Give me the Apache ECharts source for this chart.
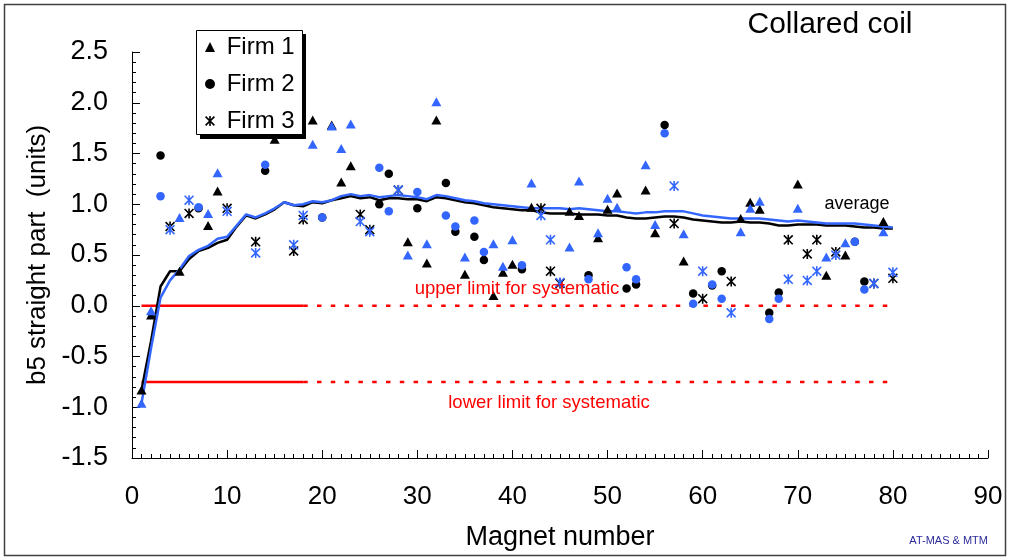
<!DOCTYPE html>
<html>
<head>
<meta charset="utf-8">
<script src="https://cdn.jsdelivr.net/npm/echarts@6/dist/echarts.min.js"></script>
<style>
  html, body { margin: 0; padding: 0; background: #ffffff; }
  #chart { width: 1010px; height: 560px; }
</style>
</head>
<body>
<div id="chart"></div>
<script>
// b5 multipole (straight part) per magnet, collared-coil stage.
// Each firm has two measurement sets: black and blue.

// Firm 1 (triangles)
const firm1Magnets = [1, 2, 5, 8, 9, 15, 19, 21, 22, 23, 29, 31, 32, 35, 38, 39, 40, 42, 46, 47, 49, 50, 51, 54, 55, 58, 64, 65, 66, 70, 73, 75, 79];
const firm1Black = [-0.83, -0.09, 0.34, 0.79, 1.13, 1.64, 1.83, 1.78, 1.22, 1.38, 0.63, 0.42, 1.83, 0.31, 0.10, 0.33, 0.41, 0.97, 0.93, 0.89, 0.67, 0.95, 1.11, 1.14, 0.72, 0.44, 0.86, 1.02, 0.95, 1.20, 0.30, 0.50, 0.83];
const firm1Blue = [-0.96, -0.05, 0.87, 0.91, 1.31, null, 1.59, 1.77, 1.55, 1.79, 0.50, 0.61, 2.01, 0.48, 0.61, 0.39, 0.65, 1.21, 0.58, 1.23, 0.72, 1.06, 0.97, 1.39, 0.80, 0.71, 0.73, 0.96, 1.03, 0.96, 0.48, 0.62, 0.73];

// Firm 2 (circles)
const firm2Magnets = [3, 7, 14, 20, 26, 27, 30, 33, 34, 36, 37, 41, 48, 52, 53, 56, 59, 61, 62, 67, 68, 76, 77];
const firm2Black = [1.48, 0.96, 1.33, 0.87, 1.00, 1.30, 0.96, 1.21, 0.73, 0.68, 0.45, 0.36, 0.30, 0.17, 0.21, 1.78, 0.12, 0.20, 0.34, -0.07, 0.13, 0.63, 0.24];
const firm2Blue = [1.08, 0.97, 1.39, 0.87, 1.36, 0.93, 1.12, 0.89, 0.78, 0.84, 0.53, 0.40, 0.26, 0.38, 0.26, 1.70, 0.02, 0.21, 0.07, -0.13, 0.07, 0.63, 0.16];

// Firm 3 (stars)
const firm3Magnets = [4, 6, 10, 13, 17, 18, 24, 25, 28, 43, 44, 45, 57, 60, 63, 69, 71, 72, 74, 78, 80];
const firm3Black = [0.78, 0.91, 0.96, 0.63, 0.54, 0.85, 0.90, 0.75, 1.14, 0.96, 0.34, 0.22, 0.81, 0.07, 0.24, 0.65, 0.51, 0.65, 0.53, 0.22, 0.27];
const firm3Blue = [0.75, 1.04, 0.93, 0.52, 0.60, 0.89, 0.83, 0.73, 1.14, 0.89, 0.65, 0.23, 1.18, 0.34, -0.07, 0.26, 0.25, 0.34, 0.50, 0.22, 0.33];

// Running averages over magnets 1..80
const averageBlack = [-0.83, -0.35, 0.19, 0.34, 0.34, 0.46, 0.54, 0.57, 0.62, 0.65,
  0.78, 0.89, 0.86, 0.90, 0.95, 1.02, 0.99, 0.98, 1.02, 1.01,
  1.04, 1.06, 1.08, 1.06, 1.07, 1.04, 1.06, 1.06, 1.05, 1.05,
  1.03, 1.07, 1.06, 1.04, 1.02, 1.01, 0.99, 0.97, 0.96, 0.95,
  0.94, 0.94, 0.92, 0.91, 0.91, 0.91, 0.90, 0.90, 0.90, 0.89,
  0.89, 0.87, 0.86, 0.86, 0.87, 0.88, 0.88, 0.87, 0.85, 0.84,
  0.83, 0.82, 0.82, 0.83, 0.82, 0.82, 0.81, 0.79, 0.79, 0.80,
  0.80, 0.80, 0.79, 0.79, 0.79, 0.78, 0.77, 0.77, 0.76, 0.76];
const averageBlue = [-0.96, -0.42, 0.08, 0.25, 0.36, 0.49, 0.55, 0.59, 0.66, 0.68,
  0.79, 0.90, 0.87, 0.91, 0.96, 1.02, 0.99, 1.00, 1.03, 1.02,
  1.04, 1.08, 1.10, 1.08, 1.09, 1.07, 1.08, 1.09, 1.08, 1.07,
  1.05, 1.09, 1.08, 1.06, 1.04, 1.03, 1.01, 1.00, 0.99, 0.98,
  0.97, 0.96, 0.96, 0.96, 0.96, 0.95, 0.96, 0.95, 0.94, 0.93,
  0.93, 0.92, 0.91, 0.92, 0.92, 0.93, 0.93, 0.93, 0.91, 0.89,
  0.88, 0.87, 0.86, 0.86, 0.86, 0.86, 0.85, 0.84, 0.83, 0.84,
  0.83, 0.82, 0.81, 0.81, 0.81, 0.81, 0.80, 0.79, 0.78, 0.77];

// Systematic limits
const upperLimit = 0.0;
const lowerLimit = -0.75;
const solidRange = [1, 18];
const dashedRange = [18, 80];

// Axis settings
const xTicks = { min: 0, max: 90, interval: 10 };
const yTicks = { min: -1.5, max: 2.5, interval: 0.5 };

const BLACK = '#000000';
const BLUE = '#3366ff';
const RED = '#ff0000';
const FONT = '"Liberation Sans", Arial, sans-serif';

// Asterisk marker: vertical bar plus two diagonals
const STAR = 'path://M4.2 0L5.8 0L5.8 10L4.2 10Z M0 1.13L1.13 0L10 8.87L8.87 10Z M8.87 0L10 1.13L1.13 10L0 8.87Z';

const pairs = (xs, ys) => xs.map((x, i) => [x, ys[i]]).filter(p => p[1] !== null);
const magnetIndex = averageBlack.map((_, i) => i + 1);

function scatter(name, symbol, size, color, xs, ys, z) {
  return {
    name, type: 'scatter', symbol, symbolSize: size,
    itemStyle: { color, opacity: 1 },
    data: pairs(xs, ys), z, silent: true, animation: false
  };
}
function limitLine(range, y, dashed) {
  return {
    type: 'line', showSymbol: false, symbol: 'none', z: 1, silent: true, animation: false,
    lineStyle: { color: RED, width: 2.5, type: dashed ? [4.5, 9.3] : 'solid' },
    data: range.map(x => [x, y])
  };
}

const chart = echarts.init(document.getElementById('chart'), null, { renderer: 'canvas' });

chart.setOption({
  animation: false,
  backgroundColor: '#ffffff',
  grid: { left: 132, right: 22, top: 52, bottom: 102, containLabel: false },
  xAxis: {
    type: 'value', min: xTicks.min, max: xTicks.max, interval: xTicks.interval,
    name: 'Magnet number', nameLocation: 'middle', nameGap: 66,
    nameTextStyle: { fontFamily: FONT, fontSize: 27, color: '#000' },
    axisLine: { show: true, onZero: false, lineStyle: { color: '#000', width: 1 } },
    axisTick: { show: true, inside: true, length: 8, lineStyle: { color: '#000' } },
    minorTick: { show: true, splitNumber: 10, length: 4, lineStyle: { color: '#000' } },
    splitLine: { show: false },
    axisLabel: { fontFamily: FONT, fontSize: 26, color: '#000', margin: 26 }
  },
  yAxis: {
    type: 'value', min: yTicks.min, max: yTicks.max, interval: yTicks.interval,
    name: 'b5 straight part  (units)', nameLocation: 'middle', nameGap: 81,
    nameTextStyle: { fontFamily: FONT, fontSize: 26, color: '#000' },
    axisLine: { show: true, onZero: false, lineStyle: { color: '#000', width: 1 } },
    axisTick: { show: true, inside: true, length: 8, lineStyle: { color: '#000' } },
    minorTick: { show: true, splitNumber: 5, length: 4, lineStyle: { color: '#000' } },
    splitLine: { show: false },
    axisLabel: { fontFamily: FONT, fontSize: 27, color: '#000', margin: 24, formatter: v => v.toFixed(1) }
  },
  legend: {
    data: ['Firm 1', 'Firm 2', 'Firm 3'],
    orient: 'vertical', left: 205, top: 34, padding: 0,
    itemWidth: 10, itemHeight: 10, itemGap: 11,
    selectedMode: false, z: 6,
    formatter: name => ' ' + name,
    textStyle: { fontFamily: FONT, fontSize: 24, color: '#000', lineHeight: 26 }
  },
  graphic: [
    // outer frame
    { type: 'rect', silent: true, z: -1, shape: { x: 4.5, y: 4.5, width: 1001, height: 551 },
      style: { fill: 'none', stroke: '#404040', lineWidth: 1.5 } },
    // legend box with drop shadow
    { type: 'rect', silent: true, z: 5, shape: { x: 200, y: 34, width: 106, height: 105 },
      style: { fill: '#000' } },
    { type: 'rect', silent: true, z: 5, shape: { x: 196.5, y: 30.5, width: 106, height: 104 },
      style: { fill: '#fff', stroke: '#000', lineWidth: 1 } },
    { type: 'text', silent: true, z: 5, style: { text: 'Collared coil', x: 830, y: 25, align: 'center', verticalAlign: 'middle', font: '30px ' + FONT, fill: '#000' } },
    { type: 'text', silent: true, z: 5, style: { text: 'average', x: 857, y: 204, align: 'center', verticalAlign: 'middle', font: '18px ' + FONT, fill: '#000' } },
    { type: 'text', silent: true, z: 5, style: { text: 'upper limit for systematic', x: 517, y: 289, align: 'center', verticalAlign: 'middle', font: '18.5px ' + FONT, fill: RED } },
    { type: 'text', silent: true, z: 5, style: { text: 'lower limit for systematic', x: 549, y: 403, align: 'center', verticalAlign: 'middle', font: '18.5px ' + FONT, fill: RED } },
    { type: 'text', silent: true, z: 5, style: { text: 'AT-MAS & MTM', x: 988, y: 541, align: 'right', verticalAlign: 'middle', font: '11px ' + FONT, fill: '#2b2b9c' } }
  ],
  series: [
    limitLine(solidRange, upperLimit, false),
    limitLine(dashedRange, upperLimit, true),
    limitLine(solidRange, lowerLimit, false),
    limitLine(dashedRange, lowerLimit, true),
    {
      name: 'average', type: 'line', symbol: 'none', z: 2, silent: true, animation: false,
      lineStyle: { color: BLACK, width: 2.5 },
      data: magnetIndex.map((m, i) => [m, averageBlack[i]])
    },
    {
      name: 'average (blue)', type: 'line', symbol: 'none', z: 2, silent: true, animation: false,
      lineStyle: { color: BLUE, width: 2.5 },
      data: magnetIndex.map((m, i) => [m, averageBlue[i]])
    },
    scatter('Firm 1', 'triangle', [10, 9], BLACK, firm1Magnets, firm1Black, 3),
    scatter('Firm 2', 'circle', 8.5, BLACK, firm2Magnets, firm2Black, 3),
    scatter('Firm 3', STAR, 10, BLACK, firm3Magnets, firm3Black, 3),
    scatter('Firm 1 (blue)', 'triangle', [10, 9], BLUE, firm1Magnets, firm1Blue, 4),
    scatter('Firm 2 (blue)', 'circle', 8.5, BLUE, firm2Magnets, firm2Blue, 4),
    scatter('Firm 3 (blue)', STAR, 10, BLUE, firm3Magnets, firm3Blue, 4)
  ]
});
</script>
</body>
</html>
